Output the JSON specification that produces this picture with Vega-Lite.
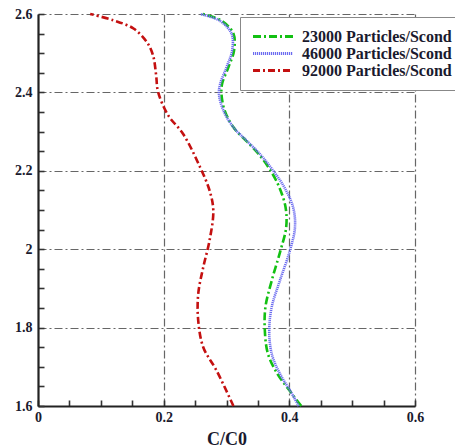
{
  "$schema": "https://vega.github.io/schema/vega-lite/v6.json",
  "width": 377,
  "height": 392,
  "autosize": {"type": "none"},
  "padding": {"left": 38, "top": 14, "right": 40, "bottom": 42},
  "background": "white",
  "config": {"view": {"stroke": null}},
  "data": {"values": [
    {"s": "23000 Particles/Scond", "y": 2.6, "c": 0.262},
    {"s": "23000 Particles/Scond", "y": 2.583, "c": 0.292},
    {"s": "23000 Particles/Scond", "y": 2.55, "c": 0.311},
    {"s": "23000 Particles/Scond", "y": 2.507, "c": 0.312},
    {"s": "23000 Particles/Scond", "y": 2.464, "c": 0.303},
    {"s": "23000 Particles/Scond", "y": 2.422, "c": 0.293},
    {"s": "23000 Particles/Scond", "y": 2.396, "c": 0.292},
    {"s": "23000 Particles/Scond", "y": 2.354, "c": 0.297},
    {"s": "23000 Particles/Scond", "y": 2.311, "c": 0.311},
    {"s": "23000 Particles/Scond", "y": 2.277, "c": 0.331},
    {"s": "23000 Particles/Scond", "y": 2.243, "c": 0.351},
    {"s": "23000 Particles/Scond", "y": 2.201, "c": 0.370},
    {"s": "23000 Particles/Scond", "y": 2.158, "c": 0.384},
    {"s": "23000 Particles/Scond", "y": 2.107, "c": 0.394},
    {"s": "23000 Particles/Scond", "y": 2.056, "c": 0.395},
    {"s": "23000 Particles/Scond", "y": 1.997, "c": 0.386},
    {"s": "23000 Particles/Scond", "y": 1.92, "c": 0.372},
    {"s": "23000 Particles/Scond", "y": 1.853, "c": 0.362},
    {"s": "23000 Particles/Scond", "y": 1.793, "c": 0.361},
    {"s": "23000 Particles/Scond", "y": 1.733, "c": 0.366},
    {"s": "23000 Particles/Scond", "y": 1.682, "c": 0.381},
    {"s": "23000 Particles/Scond", "y": 1.64, "c": 0.400},
    {"s": "23000 Particles/Scond", "y": 1.6, "c": 0.419},
    {"s": "46000 Particles/Scond", "y": 2.6, "c": 0.258},
    {"s": "46000 Particles/Scond", "y": 2.583, "c": 0.289},
    {"s": "46000 Particles/Scond", "y": 2.55, "c": 0.308},
    {"s": "46000 Particles/Scond", "y": 2.507, "c": 0.309},
    {"s": "46000 Particles/Scond", "y": 2.464, "c": 0.300},
    {"s": "46000 Particles/Scond", "y": 2.422, "c": 0.290},
    {"s": "46000 Particles/Scond", "y": 2.396, "c": 0.288},
    {"s": "46000 Particles/Scond", "y": 2.354, "c": 0.295},
    {"s": "46000 Particles/Scond", "y": 2.311, "c": 0.311},
    {"s": "46000 Particles/Scond", "y": 2.277, "c": 0.332},
    {"s": "46000 Particles/Scond", "y": 2.243, "c": 0.353},
    {"s": "46000 Particles/Scond", "y": 2.201, "c": 0.374},
    {"s": "46000 Particles/Scond", "y": 2.158, "c": 0.392},
    {"s": "46000 Particles/Scond", "y": 2.107, "c": 0.406},
    {"s": "46000 Particles/Scond", "y": 2.056, "c": 0.409},
    {"s": "46000 Particles/Scond", "y": 1.997, "c": 0.401},
    {"s": "46000 Particles/Scond", "y": 1.92, "c": 0.385},
    {"s": "46000 Particles/Scond", "y": 1.853, "c": 0.372},
    {"s": "46000 Particles/Scond", "y": 1.793, "c": 0.368},
    {"s": "46000 Particles/Scond", "y": 1.733, "c": 0.372},
    {"s": "46000 Particles/Scond", "y": 1.682, "c": 0.385},
    {"s": "46000 Particles/Scond", "y": 1.64, "c": 0.401},
    {"s": "46000 Particles/Scond", "y": 1.6, "c": 0.415},
    {"s": "92000 Particles/Scond", "y": 2.6, "c": 0.083},
    {"s": "92000 Particles/Scond", "y": 2.584, "c": 0.120},
    {"s": "92000 Particles/Scond", "y": 2.563, "c": 0.152},
    {"s": "92000 Particles/Scond", "y": 2.529, "c": 0.173},
    {"s": "92000 Particles/Scond", "y": 2.495, "c": 0.183},
    {"s": "92000 Particles/Scond", "y": 2.444, "c": 0.188},
    {"s": "92000 Particles/Scond", "y": 2.402, "c": 0.191},
    {"s": "92000 Particles/Scond", "y": 2.342, "c": 0.207},
    {"s": "92000 Particles/Scond", "y": 2.294, "c": 0.231},
    {"s": "92000 Particles/Scond", "y": 2.209, "c": 0.258},
    {"s": "92000 Particles/Scond", "y": 2.15, "c": 0.273},
    {"s": "92000 Particles/Scond", "y": 2.099, "c": 0.279},
    {"s": "92000 Particles/Scond", "y": 2.022, "c": 0.273},
    {"s": "92000 Particles/Scond", "y": 1.954, "c": 0.263},
    {"s": "92000 Particles/Scond", "y": 1.886, "c": 0.255},
    {"s": "92000 Particles/Scond", "y": 1.818, "c": 0.255},
    {"s": "92000 Particles/Scond", "y": 1.75, "c": 0.263},
    {"s": "92000 Particles/Scond", "y": 1.691, "c": 0.284},
    {"s": "92000 Particles/Scond", "y": 1.6, "c": 0.311}
  ]},
  "mark": {"type": "line", "interpolate": "catmull-rom", "strokeWidth": 2.6},
  "encoding": {
    "x": {
      "field": "c", "type": "quantitative",
      "scale": {"domain": [0, 0.6], "nice": false, "zero": false},
      "axis": {
        "title": "C/C0",
        "titleFont": "Liberation Serif", "titleFontSize": 18, "titleFontWeight": "bold", "titleColor": "#1a1a2e", "titlePadding": 6,
        "values": [0, 0.05, 0.1, 0.15, 0.2, 0.25, 0.3, 0.35, 0.4, 0.45, 0.5, 0.55, 0.6],
        "labelExpr": "abs(datum.value*5-round(datum.value*5))<0.001 ? format(datum.value,'~g') : ''",
        "labelFont": "Liberation Serif", "labelFontSize": 14, "labelFontWeight": "bold", "labelColor": "#1a1a2e",
        "labelPadding": 10, "labelFlush": false, "labelOverlap": false,
        "domainColor": "#222", "domainWidth": 2.2,
        "ticks": true, "tickSize": -6, "tickColor": "#333", "tickWidth": 1.6,
        "grid": true,
        "gridColor": "#666", "gridWidth": 1.2, "gridDash": [8, 3, 2, 3],
        "gridOpacity": {"condition": {"test": "abs(datum.value*5-round(datum.value*5))<0.001 && datum.value>0.01", "value": 1}, "value": 0}
      }
    },
    "y": {
      "field": "y", "type": "quantitative",
      "scale": {"domain": [1.6, 2.6], "nice": false, "zero": false},
      "axis": {
        "title": null,
        "values": [1.6, 1.65, 1.7, 1.75, 1.8, 1.85, 1.9, 1.95, 2.0, 2.05, 2.1, 2.15, 2.2, 2.25, 2.3, 2.35, 2.4, 2.45, 2.5, 2.55, 2.6],
        "labelExpr": "abs(datum.value*5-round(datum.value*5))<0.001 ? format(datum.value,'~g') : ''",
        "labelFont": "Liberation Serif", "labelFontSize": 14, "labelFontWeight": "bold", "labelColor": "#1a1a2e",
        "labelPadding": 12, "labelOverlap": false,
        "domainColor": "#222", "domainWidth": 2.2,
        "ticks": true, "tickSize": -6, "tickColor": "#333", "tickWidth": 1.6,
        "grid": true,
        "gridColor": "#666", "gridWidth": 1.2, "gridDash": [8, 3, 2, 3],
        "gridOpacity": {"condition": {"test": "abs(datum.value*5-round(datum.value*5))<0.001 && datum.value>1.61", "value": 1}, "value": 0}
      }
    },
    "order": {"field": "y", "type": "quantitative"},
    "color": {
      "field": "s", "type": "nominal",
      "scale": {"domain": ["23000 Particles/Scond", "46000 Particles/Scond", "92000 Particles/Scond"], "range": ["#12c012", "#6b6bf0", "#c41010"]},
      "legend": {
        "title": null, "orient": "none", "legendX": 202, "legendY": 3,
        "fillColor": "white", "strokeColor": "#888", "padding": 11,
        "symbolType": "stroke", "symbolSize": 1600, "symbolStrokeWidth": 3.2,
        "clipHeight": 17, "rowPadding": 0,
        "labelFont": "Liberation Serif", "labelFontSize": 16, "labelFontWeight": "bold", "labelColor": "#1a1a2e", "labelOffset": 7, "labelLimit": 300
      }
    },
    "strokeDash": {
      "field": "s", "type": "nominal",
      "scale": {"domain": ["23000 Particles/Scond", "46000 Particles/Scond", "92000 Particles/Scond"], "range": [[8, 3, 2, 3], [1.2, 0.8], [7, 3, 2, 3]]},
      "legend": {
        "title": null, "orient": "none", "legendX": 202, "legendY": 3,
        "fillColor": "white", "strokeColor": "#888", "padding": 11,
        "symbolType": "stroke", "symbolSize": 1600, "symbolStrokeWidth": 3.2,
        "clipHeight": 17, "rowPadding": 0,
        "labelFont": "Liberation Serif", "labelFontSize": 16, "labelFontWeight": "bold", "labelColor": "#1a1a2e", "labelOffset": 7, "labelLimit": 300
      }
    }
  }
}
